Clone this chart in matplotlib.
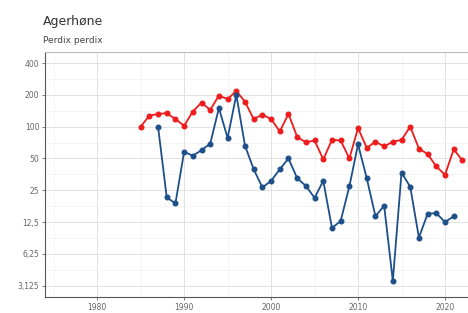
import numpy as np
import matplotlib.pyplot as plt
from matplotlib.ticker import FixedLocator, FixedFormatter

# red series (1985-2022)
years_red = list(range(1985, 2023))
red = [100, 127, 132, 134, 118, 102, 139, 169, 144, 197, 182, 218, 172, 118, 130, 118,
       90, 132, 80, 71, 74, 49, 75, 74, 50, 97, 63, 72, 65, 72, 75, 100, 62, 55, 42, 35,
       61, 48]

# blue series (1987-2021)
years_blue = list(range(1987, 2022))
blue = [100, 21.4, 18.8, 58, 53, 60, 69, 150, 78, 200, 66, 39.5, 26.6, 30.7, 39.5, 50,
        32.5, 27.5, 21.2, 30.7, 11.0, 12.8, 27.2, 68, 32.5, 14.2, 17.9, 3.47, 36.8, 27,
        8.9, 15, 15.2, 12.5, 14.2]

ytick_vals = [3.125, 6.25, 12.5, 25, 50, 100, 200, 400]
ytick_labels = ["3,125", "6,25", "12,5", "25", "50", "100", "200", "400"]
xtick_vals = [1980, 1990, 2000, 2010, 2020]

fig = plt.figure(figsize=(4.68, 3.13), dpi=100)
ax = fig.add_axes([45/468, 1-297/313, (482.4-45)/468, (297-52)/313])

ax.set_yscale('log', base=2)
ax.set_ylim(2**1.29, 2**8.99)
ax.set_xlim(1974.0, 2024.3)

# grid (major + minor, ggplot style)
ax.yaxis.set_major_locator(FixedLocator(ytick_vals))
ax.yaxis.set_major_formatter(FixedFormatter(ytick_labels))
ax.yaxis.set_minor_locator(FixedLocator([v*np.sqrt(2) for v in [1.5625] + ytick_vals]))
ax.yaxis.set_minor_formatter(FixedFormatter([]))
ax.xaxis.set_major_locator(FixedLocator(xtick_vals))
ax.xaxis.set_minor_locator(FixedLocator([1975, 1985, 1995, 2005, 2015]))
ax.grid(which='major', color='#e2e2e2', lw=0.7)
ax.grid(which='minor', color='#f0f0f0', lw=0.5)
ax.set_axisbelow(True)

ax.plot(years_red, red, color='#ee1c1c', lw=1.3, marker='o', ms=3.3, zorder=3)
ax.plot(years_blue, blue, color='#1d4f8a', lw=1.3, marker='o', ms=3.3, zorder=3)

ax.tick_params(which='major', length=2.5, width=0.6, color='#666666',
               labelsize=5.5, labelcolor='#666666', pad=1.5)
ax.tick_params(which='minor', length=0)
for s in ['left', 'bottom']:
    ax.spines[s].set_color('#555555')
    ax.spines[s].set_linewidth(0.8)
for s in ['top', 'right']:
    ax.spines[s].set_color('#bbbbbb')
    ax.spines[s].set_linewidth(0.8)

fig.text(43/468, 1-25/313, "Agerhøne", fontsize=9, color='#333333')
fig.text(43/468, 1-43/313, "Perdix perdix", fontsize=6.5, color='#444444')

fig.savefig('out.png', dpi=100)
